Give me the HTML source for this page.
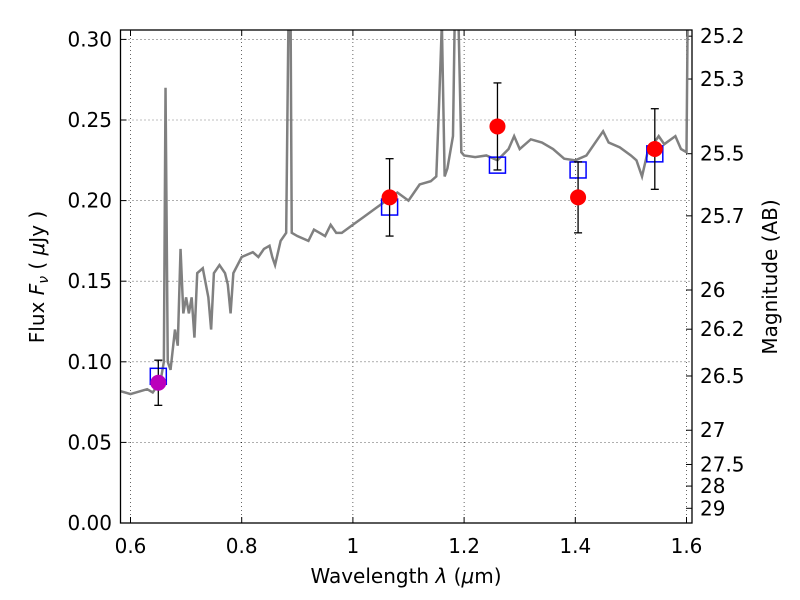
<!DOCTYPE html>
<html><head><meta charset="utf-8"><style>
html,body{margin:0;padding:0;background:#fff;}
svg{display:block;font-family:"DejaVu Sans","Liberation Sans",sans-serif;}
</style></head><body>
<svg id="chart" width="800" height="600"></svg>
<script>
const specX=[0.58,0.60,0.62,0.63,0.64,0.65,0.655,0.66,0.663,0.667,0.672,0.68,0.685,0.69,0.695,0.70,0.705,0.71,0.715,0.72,0.73,0.74,0.745,0.75,0.76,0.77,0.775,0.78,0.785,0.80,0.82,0.83,0.84,0.85,0.855,0.86,0.87,0.88,0.884,0.888,0.89,0.90,0.92,0.93,0.94,0.95,0.96,0.97,0.98,1.0,1.02,1.04,1.06,1.08,1.10,1.12,1.14,1.15,1.155,1.16,1.165,1.17,1.18,1.183,1.19,1.195,1.2,1.22,1.24,1.26,1.28,1.29,1.30,1.32,1.34,1.36,1.38,1.40,1.42,1.44,1.45,1.46,1.48,1.50,1.51,1.52,1.53,1.55,1.56,1.58,1.59,1.60,1.602];
const specY=[0.082,0.080,0.082,0.083,0.081,0.086,0.09,0.10,0.27,0.10,0.095,0.12,0.11,0.17,0.13,0.14,0.13,0.14,0.115,0.155,0.158,0.14,0.12,0.155,0.16,0.155,0.148,0.13,0.155,0.165,0.168,0.165,0.17,0.172,0.165,0.16,0.175,0.18,0.31,0.31,0.18,0.178,0.175,0.182,0.18,0.178,0.185,0.18,0.18,0.185,0.19,0.195,0.20,0.205,0.20,0.21,0.212,0.215,0.26,0.31,0.215,0.22,0.24,0.31,0.31,0.23,0.228,0.227,0.228,0.225,0.232,0.24,0.232,0.238,0.236,0.232,0.226,0.225,0.228,0.238,0.243,0.236,0.233,0.228,0.225,0.215,0.23,0.24,0.235,0.24,0.232,0.23,0.31];
const obsX=[1.066,1.26,1.405,1.543];
const obsY=[0.202,0.246,0.202,0.232];
const obsErr=[0.024,0.027,0.022,0.025];
const purX=[0.65], purY=[0.087], purErr=[0.014];
const modX=[0.65,1.066,1.26,1.405,1.543];
const modY=[0.091,0.196,0.222,0.219,0.229];
const xTicks=[0.6,0.8,1.0,1.2,1.4,1.6];
const xTickLabels=["0.6","0.8","1","1.2","1.4","1.6"];
const yTicks=[0,0.05,0.1,0.15,0.2,0.25,0.3];
const yTickLabels=["0.00","0.05","0.10","0.15","0.20","0.25","0.30"];
const magTicks=[25.2,25.3,25.5,25.7,26,26.2,26.5,27,27.5,28,29];
const magLabels=["25.2","25.3","25.5","25.7","26","26.2","26.5","27","27.5","28","29"];

const L=120.5,R=692,T=30,B=523;
const X=v=>130.5+(v-0.6)*556;
const Y=v=>B-v*1612;
const svg=document.getElementById('chart');
const NS='http://www.w3.org/2000/svg';
function mk(tag,attrs,parent){const e=document.createElementNS(NS,tag);for(const k in attrs)e.setAttribute(k,attrs[k]);(parent||svg).appendChild(e);return e;}
const clip=mk('clipPath',{id:'pc'});mk('rect',{x:L,y:T,width:R-L,height:B-T},clip);
const grid=mk('g',{});
xTicks.forEach((t,i)=>{
  mk('line',{x1:X(t),x2:X(t),y1:T,y2:B,stroke:'#000','stroke-width':0.6,'stroke-dasharray':'1,3'},grid);
  mk('line',{x1:X(t),x2:X(t),y1:B,y2:B-6,stroke:'#000'});mk('line',{x1:X(t),x2:X(t),y1:T,y2:T+6,stroke:'#000'});
  const tx=mk('text',{x:X(t),y:553,'font-size':20,'text-anchor':'middle'});tx.textContent=xTickLabels[i];
  
});
yTicks.forEach((t,i)=>{
  mk('line',{x1:L,x2:R,y1:Y(t),y2:Y(t),stroke:'#000','stroke-width':0.6,'stroke-dasharray':'1,3'},grid);
  mk('line',{x1:L,x2:L+6,y1:Y(t),y2:Y(t),stroke:'#000'});
  const tx=mk('text',{x:112,y:Y(t)+7,'font-size':20,'text-anchor':'end'});tx.textContent=yTickLabels[i];
  
});
magTicks.forEach((m,i)=>{
  const yy=Y(Math.pow(10,(23.9-m)/2.5));
  mk('line',{x1:R,x2:R-6,y1:yy,y2:yy,stroke:'#000'});
  const tx=mk('text',{x:700,y:yy+7,'font-size':20});tx.textContent=magLabels[i];
  
});
const pg=mk('g',{'clip-path':'url(#pc)'});
const sp=mk('polyline',{points:specX.map((x,i)=>X(x)+','+Y(specY[i])).join(' '),fill:'none',stroke:'#808080','stroke-width':2.5},pg);

modX.forEach((x,i)=>{const r=mk('rect',{x:X(x)-8,y:Y(modY[i])-8,width:16,height:16,fill:'none',stroke:'#0000ff','stroke-width':1.5},pg);
  });
function pts(xs,ys,es,col,name){xs.forEach((x,i)=>{
  mk('line',{x1:X(x),x2:X(x),y1:Y(ys[i]-es[i]),y2:Y(ys[i]+es[i]),stroke:'#000','stroke-width':1.3},pg);
  [ys[i]-es[i],ys[i]+es[i]].forEach(v=>mk('line',{x1:X(x)-4,x2:X(x)+4,y1:Y(v),y2:Y(v),stroke:'#000','stroke-width':1.3},pg));
  const c=mk('circle',{cx:X(x),cy:Y(ys[i]),r:8,fill:col},pg);
  });}
pts(obsX,obsY,obsErr,'#ff0000','observed-flux-point');
pts(purX,purY,purErr,'#bb00bb','observed-flux-point-optical');
mk('rect',{x:L,y:T,width:R-L,height:B-T,fill:'none',stroke:'#000','stroke-width':1.3});
const xl=mk('text',{x:406,y:583,'font-size':20,'text-anchor':'middle'});xl.innerHTML='Wavelength  <tspan font-style="italic">λ</tspan> (<tspan font-style="italic">μ</tspan>m)';

const yl=mk('text',{x:0,y:0,'font-size':20,'text-anchor':'middle',transform:'translate(44,277) rotate(-90)'});yl.innerHTML='Flux  <tspan font-style="italic">F</tspan><tspan font-style="italic" font-size="14" dy="4">ν</tspan><tspan dy="-4">  ( </tspan><tspan font-style="italic">μ</tspan>Jy )';

const ml=mk('text',{x:0,y:0,'font-size':20,'text-anchor':'middle',transform:'translate(777,277) rotate(-90)'});ml.textContent='Magnitude (AB)';

</script>
</body></html>
